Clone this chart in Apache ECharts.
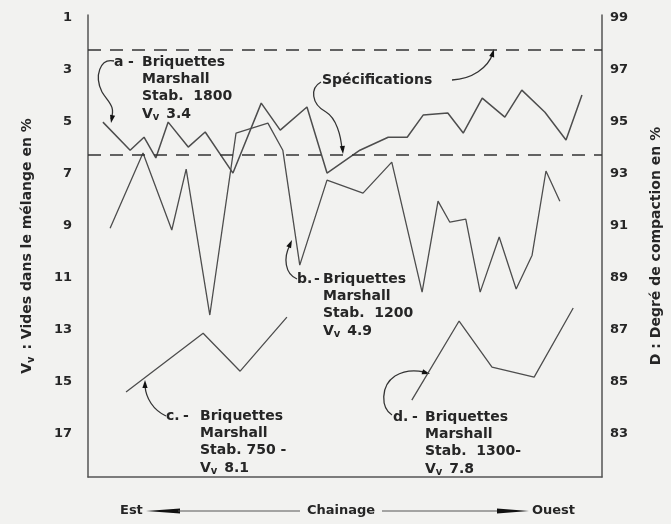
<!DOCTYPE html>
<html>
<head>
<meta charset="utf-8">
<script src="https://cdn.jsdelivr.net/npm/echarts@6/dist/echarts.min.js"></script>
<style>
html,body{margin:0;padding:0;background:#f2f2f0;}
#c{width:671px;height:524px;}
</style>
</head>
<body>
<div id="c"></div>
<script>
// Chainage position (0 = Est end, 100 = Ouest end of the plot)
const xA = [2.9,8.2,10.9,13.2,15.6,19.5,22.8,28.2,33.7,37.4,42.6,46.5,52.9,58.4,62.1,65.2,70.0,73.0,76.7,81.1,84.4,88.9,93.0,96.1];
const vvA = [5.0,6.08,5.58,6.38,5.0,5.96,5.38,6.96,4.27,5.31,4.42,6.96,6.08,5.58,5.58,4.73,4.65,5.42,4.08,4.81,3.77,4.62,5.69,3.96];
const xB = [4.3,10.7,16.3,19.1,23.7,28.8,35.0,37.9,41.2,46.5,53.5,59.1,65.0,68.1,70.4,73.5,76.3,80.0,83.3,86.4,89.1,91.8];
const vvB = [9.08,6.19,9.15,6.81,12.42,5.42,5.04,6.08,10.5,7.23,7.73,6.54,11.54,8.04,8.85,8.73,11.54,9.42,11.42,10.12,6.88,8.04];
const xC = [7.4,22.4,29.6,38.7];
const dC = [84.62,86.88,85.42,87.5];
const xD = [63.0,72.2,78.6,86.8,94.4];
const dD = [84.31,87.35,85.58,85.19,87.85];
const specVv = [2.2, 6.25];
const leftTicks = [1,3,5,7,9,11,13,15,17];
const rightTicks = [83,85,87,89,91,93,95,97,99];

const zip = (xs, ys) => xs.map((x, i) => [x, ys[i]]);
const FONT = 'DejaVu Sans';
const INK = '#262626';
const LINE = '#4d4d4d';
const FS = 14;

function head(x, y, dx, dy, len, w) {
  len = len || 8; w = w || 2.6;
  const L = Math.hypot(dx, dy), ux = dx / L, uy = dy / L;
  const bx = x - ux * len, by = y - uy * len;
  return {type: 'polygon', silent: true, shape: {points: [[x, y], [bx - uy * w, by + ux * w], [bx + uy * w, by - ux * w]]}, style: {fill: '#111'}};
}
// p: [x1,y1, c1x,c1y, c2x,c2y, x2,y2]
function bz(p) {
  return {type: 'bezierCurve', silent: true,
    shape: {x1: p[0], y1: p[1], cpx1: p[2], cpy1: p[3], cpx2: p[4], cpy2: p[5], x2: p[6], y2: p[7]},
    style: {stroke: '#333', lineWidth: 1.3, fill: null}};
}
const sub = {v: {fontSize: FS, fontWeight: 'bold', fontFamily: FONT, fill: INK, color: INK}, s: {fontSize: 10, fontWeight: 'bold', fontFamily: FONT, fill: INK, color: INK, padding: [7, 2, 0, 0]}};
function txt(x, y, t, align, size) {
  return {type: 'text', silent: true, x: x, y: y, style: {text: t, font: 'bold ' + (size || FS) + 'px ' + FONT, fill: INK, align: align || 'left', verticalAlign: 'middle', rich: sub}};
}
function block(x, y, lines) {
  return lines.map((l, i) => txt(x, y + i * 17.3, l));
}

const graphics = [].concat(
  [txt(114, 62, 'a'), txt(128, 62, '-')], block(142, 62, ['Briquettes', 'Marshall', 'Stab.  1800', '{v|V}{s|v} 3.4']),
  [bz([114,61, 100,58, 94,76, 102,92]), bz([102,92, 108,102, 116,106, 111,119]), head(111, 123, -1, 5)],
  [txt(322, 80, 'Spécifications')],
  [bz([321,82, 310,88, 311,104, 326,112]), bz([326,112, 336,118, 341,135, 342,150]), head(343, 154, 1, 12)],
  [bz([452,80, 472,79, 488,68, 493,53]), head(494, 49, 4, -13)],
  [txt(297, 279, 'b.'), txt(314, 279, '-')], block(323, 279, ['Briquettes', 'Marshall', 'Stab.  1200', '{v|V}{s|v} 4.9']),
  [bz([297,279, 285,274, 283,258, 290,245]), head(292, 240, 5, -11)],
  [txt(166, 416, 'c.'), txt(183, 416, '-')], block(200, 416, ['Briquettes', 'Marshall', 'Stab. 750 -', '{v|V}{s|v} 8.1']),
  [bz([166,416, 153,410, 146,398, 145,386]), head(145, 380, 0, -12)],
  [txt(393, 417, 'd.'), txt(412, 417, '-')], block(425, 417, ['Briquettes', 'Marshall', 'Stab.  1300-', '{v|V}{s|v} 7.8']),
  [bz([392,415, 381,408, 380,386, 395,376]), bz([395,376, 405,370, 415,370, 424,372]), head(430, 374, 10, 3)],
  // bottom chainage caption
  [txt(120, 511, 'Est', 'left', 13), head(146, 511, -1, 0, 34, 2.6),
   {type: 'line', silent: true, shape: {x1: 178, y1: 511, x2: 300, y2: 511}, style: {stroke: '#555', lineWidth: 1}},
   txt(341, 511, 'Chainage', 'center', 13),
   {type: 'line', silent: true, shape: {x1: 382, y1: 511, x2: 500, y2: 511}, style: {stroke: '#555', lineWidth: 1}},
   head(529, 511, 1, 0, 32, 2.6), txt(532, 511, 'Ouest', 'left', 13)]
);

const chart = echarts.init(document.getElementById('c'), null, {renderer: 'canvas'});
const axisLineStyle = {color: '#555', width: 1.5};
chart.setOption({
  backgroundColor: '#f2f2f0',
  animation: false,
  grid: {left: 88, right: 69, top: 15, bottom: 47, containLabel: false, outerBoundsMode: 'none'},
  xAxis: {type: 'value', min: 0, max: 100, axisLine: {show: true, lineStyle: axisLineStyle},
          axisTick: {show: false}, axisLabel: {show: false}, splitLine: {show: false}},
  yAxis: [
    {type: 'value', inverse: true, min: 0.88, max: 18.65, position: 'left',
     axisLine: {show: true, lineStyle: axisLineStyle}, axisTick: {show: false}, splitLine: {show: false},
     axisLabel: {customValues: leftTicks, margin: 16, color: INK, fontSize: 13, fontWeight: 'bold', fontFamily: FONT},
     name: '{v|V}{s|v} : Vides dans le mélange en %', nameLocation: 'middle', nameGap: 52,
     nameTextStyle: {color: INK, fontSize: FS, fontWeight: 'bold', fontFamily: FONT, rich: sub}},
    {type: 'value', min: 81.35, max: 99.12, position: 'right',
     axisLine: {show: true, lineStyle: axisLineStyle}, axisTick: {show: false}, splitLine: {show: false},
     axisLabel: {customValues: rightTicks, margin: 8, color: INK, fontSize: 13, fontWeight: 'bold', fontFamily: FONT},
     name: 'D : Degré de compaction en %', nameLocation: 'middle', nameGap: 47, nameRotate: 90,
     nameTextStyle: {color: INK, fontSize: FS, fontWeight: 'bold', fontFamily: FONT}}
  ],
  series: [
    {name: 'a', type: 'line', yAxisIndex: 0, data: zip(xA, vvA), showSymbol: false, silent: true,
     lineStyle: {color: LINE, width: 1.5},
     markLine: {silent: true, symbol: 'none', label: {show: false},
       lineStyle: {color: '#333', width: 1.6, type: [13, 9]},
       data: specVv.map(v => ({yAxis: v}))}},
    {name: 'b', type: 'line', yAxisIndex: 0, data: zip(xB, vvB), showSymbol: false, silent: true,
     lineStyle: {color: LINE, width: 1.3}},
    {name: 'c', type: 'line', yAxisIndex: 1, data: zip(xC, dC), showSymbol: false, silent: true,
     lineStyle: {color: LINE, width: 1.3}},
    {name: 'd', type: 'line', yAxisIndex: 1, data: zip(xD, dD), showSymbol: false, silent: true,
     lineStyle: {color: LINE, width: 1.3}}
  ],
  graphic: graphics
});
</script>
</body>
</html>
